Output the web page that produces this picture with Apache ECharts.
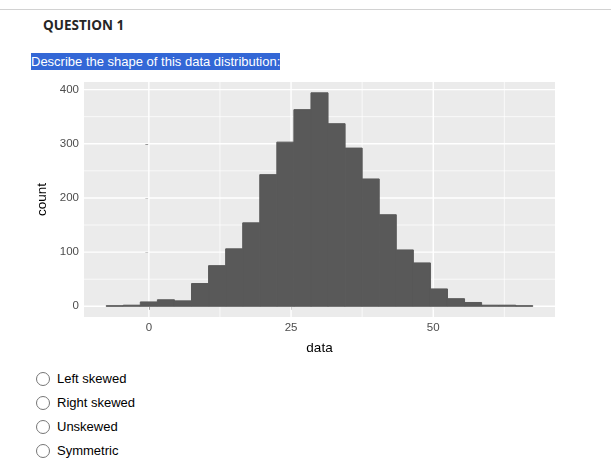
<!DOCTYPE html>
<html>
<head>
<meta charset="utf-8">
<script src="https://cdn.jsdelivr.net/npm/echarts@6/dist/echarts.min.js"></script>
<style>
  html, body {
    margin: 0;
    padding: 0;
    width: 611px;
    height: 474px;
    background: #fff;
    overflow: hidden;
    font-family: "Liberation Sans", Arial, sans-serif;
  }
  #topline {
    position: absolute;
    left: 0;
    top: 9px;
    width: 611px;
    height: 1px;
    background: #d2d2d2;
  }
  #qtitle {
    position: absolute;
    left: 43px;
    top: 16px;
    font-family: "Open Sans", sans-serif;
    font-weight: bold;
    font-size: 13.5px;
    color: #262626;
  }
  #prompt {
    position: absolute;
    left: 31px;
    top: 53px;
    height: 17px;
    line-height: 17px;
    font-size: 13px;
    color: #fff;
    background: #3367d6;
    white-space: nowrap;
  }
  #chart {
    position: absolute;
    left: 0;
    top: 75px;
    width: 611px;
    height: 290px;
  }
  .opt {
    position: absolute;
    left: 36px;
    height: 16px;
    line-height: 16px;
    font-size: 13px;
    color: #000;
    white-space: nowrap;
  }
  .opt span.radio {
    display: inline-block;
    box-sizing: border-box;
    width: 14px;
    height: 14px;
    border: 1px solid #767676;
    border-radius: 50%;
    background: #fff;
    vertical-align: -3px;
    margin-right: 7px;
  }
</style>
</head>
<body>
<div id="topline"></div>
<div id="qtitle">QUESTION 1</div>
<div id="prompt">Describe the shape of this data distribution:</div>
<div id="chart"></div>
<div class="opt" style="top:371px"><span class="radio"></span>Left skewed</div>
<div class="opt" style="top:395px"><span class="radio"></span>Right skewed</div>
<div class="opt" style="top:419px"><span class="radio"></span>Unskewed</div>
<div class="opt" style="top:443px"><span class="radio"></span>Symmetric</div>

<script>
// histogram bins (centre of each bin) and counts
var binWidth = 3;
var binCenters = [-6, -3, 0, 3, 6, 9, 12, 15, 18, 21, 24, 27, 30, 33, 36, 39, 42, 45, 48, 51, 54, 57, 60, 63, 66];
var counts = [1, 2, 8, 12, 10, 42, 75, 106, 154, 243, 303, 363, 394, 337, 292, 235, 169, 104, 80, 32, 14, 7, 2, 2, 1];

var xTicks = [0, 25, 50];
var xMinorGrid = [12.5, 37.5, 62.5];
var yTicks = [0, 100, 200, 300, 400];
var yMinorGrid = [50, 150, 250, 350];

var chart = echarts.init(document.getElementById("chart"));

var histData = [];
binCenters.forEach(function (c, i) {
  histData.push([c, counts[i]]);
});

// grid lines: [axis (0 = x, 1 = y), value, major?]
var gridData = [];
xTicks.forEach(function (v) { gridData.push([0, v, 1]); });
xMinorGrid.forEach(function (v) { gridData.push([0, v, 0]); });
yTicks.forEach(function (v) { gridData.push([1, v, 1]); });
yMinorGrid.forEach(function (v) { gridData.push([1, v, 0]); });

var option = {
  animation: false,
  grid: {
    left: 84,
    top: 7,
    width: 471,
    height: 235,
    show: true,
    backgroundColor: "#EBEBEB",
    borderWidth: 0,
  },
  xAxis: {
    type: "value",
    min: -11.4,
    max: 71.4,
    axisLine: { show: false },
    axisTick: {
      show: true,
      customValues: xTicks,
      length: 3.5,
      lineStyle: { color: "#333333", width: 1 },
    },
    axisLabel: {
      customValues: xTicks,
      color: "#4D4D4D",
      fontSize: 11.5,
      fontFamily: "Liberation Sans",
      margin: 5,
    },
    splitLine: { show: false },
    name: "data",
    nameLocation: "middle",
    nameGap: 24,
    nameTextStyle: {
      color: "#000",
      fontSize: 13.5,
      fontFamily: "Liberation Sans",
    },
  },
  yAxis: {
    type: "value",
    min: -19.8,
    max: 414,
    axisLine: { show: false },
    axisTick: {
      show: true,
      customValues: yTicks,
      length: 3.5,
      lineStyle: { color: "#333333", width: 1 },
    },
    axisLabel: {
      customValues: yTicks,
      color: "#4D4D4D",
      fontSize: 11.5,
      fontFamily: "Liberation Sans",
      margin: 5,
    },
    splitLine: { show: false },
    name: "count",
    nameLocation: "middle",
    nameRotate: 90,
    nameGap: 35,
    nameTextStyle: {
      color: "#000",
      fontSize: 13.5,
      fontFamily: "Liberation Sans",
    },
  },
  series: [
    {
      // panel grid lines, drawn behind the bars
      type: "custom",
      z: 1,
      silent: true,
      data: gridData,
      renderItem: function (params, api) {
        var axis = api.value(0);
        var v = api.value(1);
        var major = api.value(2);
        var cs = params.coordSys;
        var shape;
        if (axis === 0) {
          var px = api.coord([v, 0])[0];
          shape = { x1: px, y1: cs.y, x2: px, y2: cs.y + cs.height };
        } else {
          var py = api.coord([0, v])[1];
          shape = { x1: cs.x, y1: py, x2: cs.x + cs.width, y2: py };
        }
        return {
          type: "line",
          shape: shape,
          style: { stroke: "#FFFFFF", lineWidth: major ? 1.4 : 0.7 },
        };
      },
    },
    {
      type: "custom",
      z: 2,
      data: histData,
      renderItem: function (params, api) {
        var c = api.value(0);
        var n = api.value(1);
        var p0 = api.coord([c - binWidth / 2, n]);
        var p1 = api.coord([c + binWidth / 2, 0]);
        return {
          type: "rect",
          shape: { x: p0[0], y: p0[1], width: p1[0] - p0[0], height: p1[1] - p0[1] },
          style: { fill: "#595959", stroke: "#595959", lineWidth: 1 },
        };
      },
    },
  ],
};
chart.setOption(option);
</script>
</body>
</html>
